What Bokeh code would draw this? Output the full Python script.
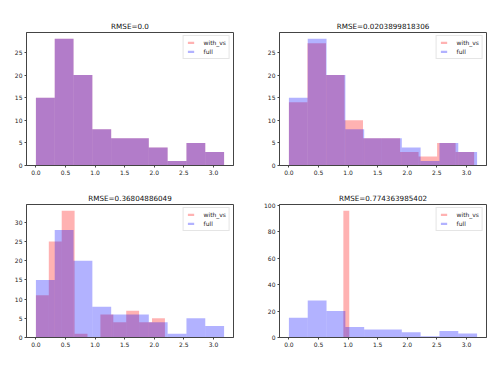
from bokeh.plotting import figure
from bokeh.layouts import gridplot
from bokeh.models import Range1d, FixedTicker, NumeralTickFormatter, Legend, LegendItem
from bokeh.embed import file_html
from bokeh.resources import INLINE

# ---- data ----
titles = ["RMSE=0.0", "RMSE=0.0203899818306", "RMSE=0.36804886049", "RMSE=0.774363985402"]

full_edges = [0.0, 0.318, 0.636, 0.954, 1.272, 1.59, 1.908, 2.226, 2.544, 2.862, 3.18]
full_counts = [15, 28, 20, 8, 6, 6, 4, 1, 5, 3]

with_vs_edges_1 = [0.0, 0.318, 0.636, 0.954, 1.272, 1.59, 1.908, 2.226, 2.544, 2.862, 3.18]
with_vs_counts_1 = [15, 28, 20, 8, 6, 6, 4, 1, 5, 3]

with_vs_edges_2 = [0.0, 0.313, 0.626, 0.939, 1.252, 1.565, 1.878, 2.191, 2.504, 2.817, 3.13]
with_vs_counts_2 = [14, 27, 20, 10, 6, 6, 3, 2, 5, 3]

with_vs_edges_3 = [0.0, 0.218, 0.436, 0.654, 0.872, 1.09, 1.308, 1.526, 1.744, 1.962, 2.18]
with_vs_counts_3 = [11, 25, 33, 1, 0, 6, 4, 7, 4, 5]

with_vs_edges_4 = [0.42, 0.52, 0.62, 0.72, 0.82, 0.92, 1.02, 1.12, 1.22, 1.32, 1.42]
with_vs_counts_4 = [0, 0, 0, 0, 0, 96, 0, 0, 0, 0]

x_ticks = [0.0, 0.5, 1.0, 1.5, 2.0, 2.5, 3.0]
y_ticks = [[0, 5, 10, 15, 20, 25], [0, 5, 10, 15, 20, 25], [0, 5, 10, 15, 20, 25, 30], [0, 20, 40, 60, 80, 100]]

with_vs_sets = [(with_vs_edges_1, with_vs_counts_1), (with_vs_edges_2, with_vs_counts_2),
                (with_vs_edges_3, with_vs_counts_3), (with_vs_edges_4, with_vs_counts_4)]

FONT = "DejaVu Sans"
# (left, right, top, bottom) borders of each panel
borders = [(26, 24, 32, 15), (22, 14, 32, 15), (26, 24, 24, 20), (22, 14, 24, 20)]


def make(i):
    wv_edges, wv_counts = with_vs_sets[i]
    xmin = min(min(full_edges), min(wv_edges))
    xmax = max(max(full_edges), max(wv_edges))
    ymax = max(max(full_counts), max(wv_counts))
    xm = 0.05 * (xmax - xmin)
    bl, br, bt, bb = borders[i]
    p = figure(frame_width=207, frame_height=133, output_backend="svg", toolbar_location=None,
               x_range=Range1d(xmin - xm, xmax + xm), y_range=Range1d(0, ymax * 1.05),
               min_border_left=bl, min_border_right=br,
               min_border_top=bt, min_border_bottom=bb, background_fill_color="white",
               border_fill_color="white")
    p.title.text = titles[i]
    p.title.align = "center"
    p.title.text_font = FONT
    p.title.text_font_size = "7.2px"
    p.title.text_font_style = "normal"
    p.title.text_color = "#111111"
    p.title.standoff = 4

    r1 = p.quad(left=wv_edges[:-1], right=wv_edges[1:], top=wv_counts, bottom=0,
                fill_color="red", fill_alpha=0.3, line_color=None)
    r2 = p.quad(left=full_edges[:-1], right=full_edges[1:], top=full_counts, bottom=0,
                fill_color="blue", fill_alpha=0.3, line_color=None)

    p.grid.visible = False
    p.outline_line_color = "#444444"
    p.outline_line_width = 1
    for ax in (p.xaxis[0], p.yaxis[0]):
        ax.axis_line_color = "#444444"
        ax.major_tick_line_color = "#444444"
        ax.major_tick_out = 2
        ax.major_tick_in = 0
        ax.minor_tick_out = 0
        ax.minor_tick_in = 0
        ax.major_label_standoff = 2
        ax.major_label_text_font = FONT
        ax.major_label_text_font_size = "6px"
        ax.major_label_text_color = "#222222"
    p.xaxis.ticker = FixedTicker(ticks=x_ticks)
    p.xaxis.formatter = NumeralTickFormatter(format="0.0")
    p.yaxis.ticker = FixedTicker(ticks=y_ticks[i])

    legend = Legend(items=[LegendItem(label="with_vs", renderers=[r1]),
                           LegendItem(label="full", renderers=[r2])],
                    location="top_right")
    legend.margin = 3
    legend.padding = 3
    legend.spacing = 2
    legend.glyph_width = 8
    legend.glyph_height = 3
    legend.label_height = 7
    legend.label_standoff = 9
    legend.label_text_font = FONT
    legend.label_text_font_size = "6px"
    legend.label_text_color = "#222222"
    legend.border_line_color = "#cccccc"
    legend.border_line_width = 1
    legend.background_fill_alpha = 0.8
    p.add_layout(legend)
    return p


figs = [make(i) for i in range(4)]
grid = gridplot([[figs[0], figs[1]], [figs[2], figs[3]]], toolbar_location=None)

open("out.html", "w").write(file_html(grid, INLINE))
